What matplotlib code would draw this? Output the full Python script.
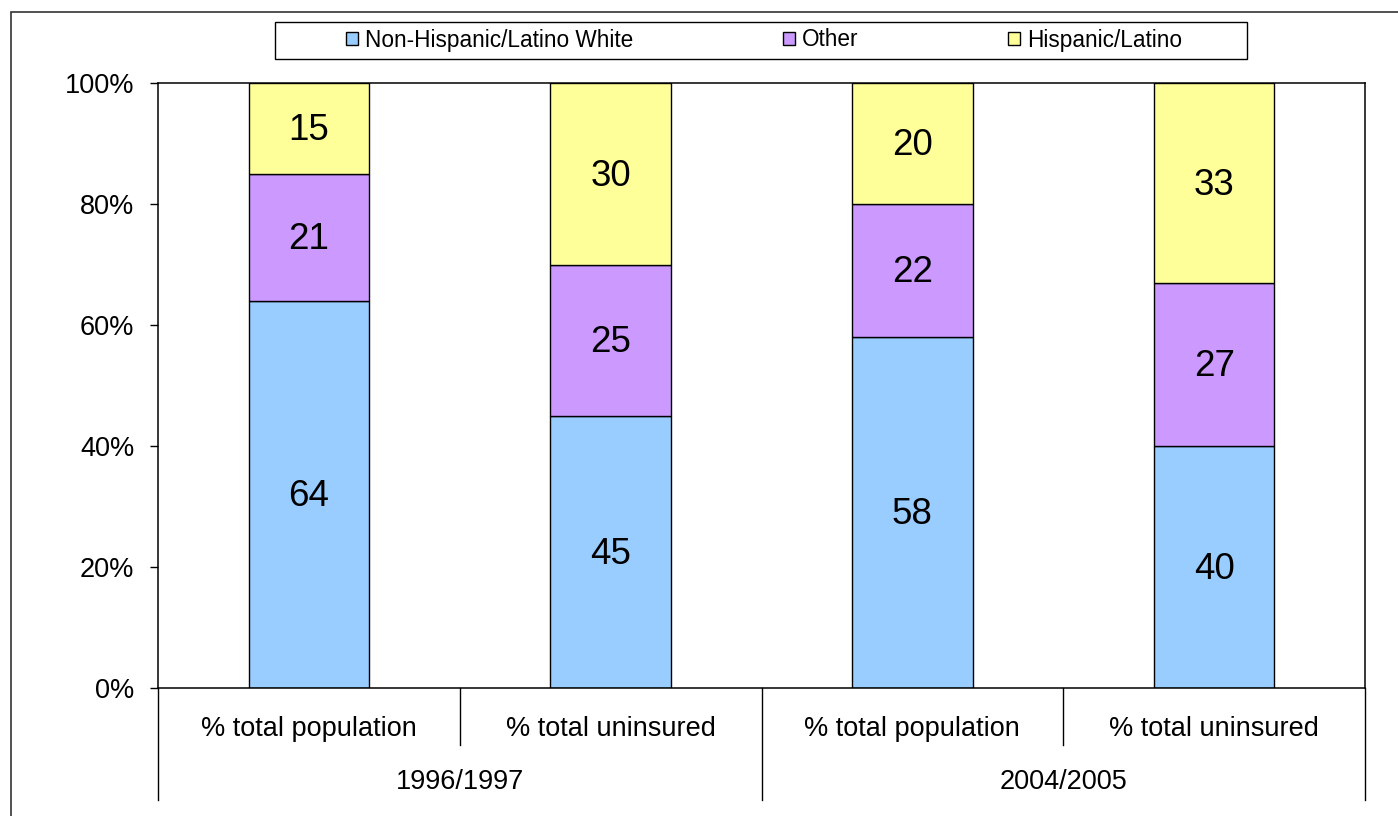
import numpy as np
import matplotlib
matplotlib.use('Agg')
import matplotlib.pyplot as plt
from matplotlib.patches import Rectangle

plt.rcParams['font.family'] = ['Liberation Sans', 'DejaVu Sans']

# data
categories = ['% total population', '% total uninsured', '% total population', '% total uninsured']
groups = ['1996/1997', '2004/2005']
series_names = ['Non-Hispanic/Latino White', 'Other', 'Hispanic/Latino']
white = [64, 45, 58, 40]
other = [21, 25, 22, 27]
hispanic = [15, 30, 20, 33]
colors = ['#99CCFF', '#CC99FF', '#FFFF99']

W, H = 1398, 816
fig = plt.figure(figsize=(W / 100, H / 100), dpi=100)
ax = fig.add_axes([158 / W, 1 - 688 / H, (1365 - 158) / W, (688 - 83) / H])

x = np.arange(len(categories))
bottom = np.zeros(len(categories))
handles = []
for vals, col, name in zip([white, other, hispanic], colors, series_names):
    vals = np.array(vals)
    bars = ax.bar(x, vals, width=0.4, bottom=bottom, color=col,
                  edgecolor='black', linewidth=1.0, label=name)
    handles.append(bars)
    for xi, b, v in zip(x, bottom, vals):
        ax.text(xi, b + v / 2 - 0.4, str(v), ha='center', va='center', fontsize=26.5)
    bottom = bottom + vals

ax.set_xlim(-0.5, len(categories) - 0.5)
ax.set_ylim(0, 100)
ax.set_yticks(np.arange(0, 101, 20))
ax.set_yticklabels([f'{t}%' for t in range(0, 101, 20)], fontsize=19.5)
ax.tick_params(axis='y', length=6, width=1, pad=11)
ax.set_xticks([])
for s in ax.spines.values():
    s.set_linewidth(1.1)

# two-level category axis below the plot
trans = ax.get_xaxis_transform()
ah = 688 - 83
for i, c in enumerate(categories):
    ax.text(i, -41 / ah, c, transform=trans, ha='center', va='center', fontsize=19.5)
for g, name in enumerate(groups):
    ax.text(2 * g + 0.5, -94 / ah, name, transform=trans, ha='center', va='center', fontsize=19.5)
for xs in [-0.5, 1.5, 3.5]:
    ax.plot([xs, xs], [0, -112 / ah], transform=trans, color='black', lw=1.0, clip_on=False)
for xs in [0.5, 2.5]:
    ax.plot([xs, xs], [0, -57 / ah], transform=trans, color='black', lw=1.0, clip_on=False)

# legend with a separately drawn box
fig.patches.append(Rectangle((275 / W, 1 - 59 / H), (1247 - 275) / W, 37 / H,
                             transform=fig.transFigure, fill=False,
                             edgecolor='black', linewidth=1.0))
fig.legend(handles=handles, loc='center', bbox_to_anchor=(764 / W, 1 - 40 / H),
           ncol=3, frameon=False, fontsize=16.3, handlelength=0.55, handleheight=0.55,
           handletextpad=0.3, columnspacing=6.6)

# outer chart border
fig.patches.append(Rectangle((11 / W, -0.05), 1.1, 1 - 12 / H + 0.05,
                             transform=fig.transFigure, fill=False,
                             edgecolor='#333333', linewidth=1.2))

fig.savefig('out.png', dpi=100)
